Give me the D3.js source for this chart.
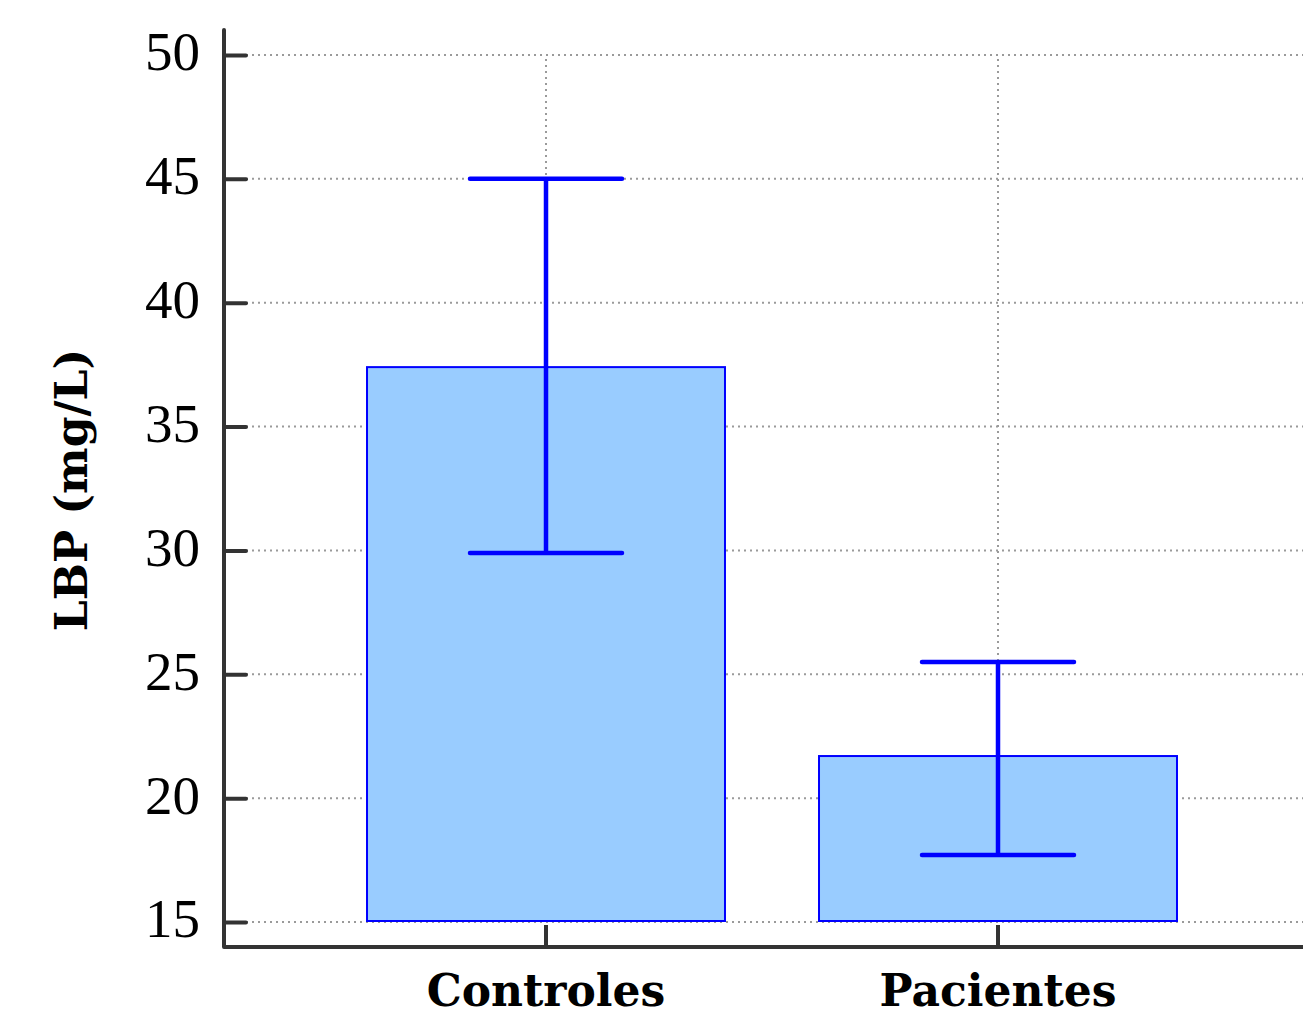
<!DOCTYPE html>
<html>
<head>
<meta charset="utf-8">
<script src="https://cdn.jsdelivr.net/npm/d3@7"></script>
<style>
  html, body { margin: 0; padding: 0; background: #fff; }
  svg { display: block; }
</style>
</head>
<body>
<svg id="chart" width="1303" height="1016"></svg>
<script>
// Mean LBP concentration per group with error-bar limits
const categories = ["Controles", "Pacientes"];
const means = [37.4, 21.7];
const errLow = [29.9, 17.7];
const errHigh = [45.0, 25.5];
const yTicks = [15, 20, 25, 30, 35, 40, 45, 50];
const yLabel = "LBP (mg/L)";

const svg = d3.select("#chart");
const W = 1303, H = 1016;

const left = 224, bottom = 947;
const y = d3.scaleLinear().domain([15, 50]).range([922, 55]);
const x = d3.scaleBand().domain(categories)
  .range([320, 1224]).paddingInner(0.208).paddingOuter(0.104);

const axisColor = "#333333";
const gridColor = "#9a9a9a";

// Horizontal dotted grid lines
svg.append("g").selectAll("line").data(yTicks).join("line")
  .attr("x1", left + 22).attr("x2", W)
  .attr("y1", d => y(d)).attr("y2", d => y(d))
  .attr("stroke", gridColor).attr("stroke-width", 2)
  .attr("stroke-dasharray", "2,4");

// Vertical dotted grid lines at category centres
svg.append("g").selectAll("line").data(categories).join("line")
  .attr("x1", d => x(d) + x.bandwidth() / 2).attr("x2", d => x(d) + x.bandwidth() / 2)
  .attr("y1", y(50) + 4).attr("y2", y(15) - 2)
  .attr("stroke", gridColor).attr("stroke-width", 2)
  .attr("stroke-dasharray", "2,4");

// Bars
svg.append("g").selectAll("rect").data(categories).join("rect")
  .attr("x", d => x(d))
  .attr("width", x.bandwidth())
  .attr("y", (d, i) => y(means[i]))
  .attr("height", (d, i) => y(15) - 1 - y(means[i]))
  .attr("fill", "#99ccff")
  .attr("stroke", "#0000ff").attr("stroke-width", 2);

// Error bars
const capHalf = 76;
const eb = svg.append("g").attr("stroke", "#0000ff").attr("stroke-width", 4.5)
  .attr("stroke-linecap", "round");
categories.forEach((c, i) => {
  const cx = x(c) + x.bandwidth() / 2;
  eb.append("line").attr("x1", cx).attr("x2", cx)
    .attr("y1", y(errHigh[i])).attr("y2", y(errLow[i])).attr("stroke-linecap", "butt");
  eb.append("line").attr("x1", cx - capHalf).attr("x2", cx + capHalf)
    .attr("y1", y(errHigh[i])).attr("y2", y(errHigh[i]));
  eb.append("line").attr("x1", cx - capHalf).attr("x2", cx + capHalf)
    .attr("y1", y(errLow[i])).attr("y2", y(errLow[i]));
});

// Y axis with inward ticks
const yAxis = d3.axisRight(y).tickValues(yTicks).tickSize(22).tickFormat("");
const gy = svg.append("g").attr("transform", `translate(${left},0)`).call(yAxis);
gy.select(".domain").remove();
gy.selectAll(".tick line").attr("stroke", axisColor).attr("stroke-width", 4)
  .attr("stroke-linecap", "round");

// Y tick labels
svg.append("g").selectAll("text").data(yTicks).join("text")
  .attr("x", 200).attr("y", d => y(d))
  .attr("dy", "0.28em")
  .attr("text-anchor", "end")
  .attr("font-family", "'Liberation Serif', serif")
  .attr("font-size", 55)
  .attr("fill", "#000")
  .text(d => d);

// X axis with inward ticks
const xAxis = d3.axisTop(x).tickSize(22).tickFormat("");
const gx = svg.append("g").attr("transform", `translate(0,${bottom})`).call(xAxis);
gx.select(".domain").remove();
gx.selectAll(".tick line").attr("stroke", axisColor).attr("stroke-width", 4);

// Axis lines
svg.append("path")
  .attr("d", `M${left},30 L${left},${bottom} L${W},${bottom}`)
  .attr("fill", "none").attr("stroke", axisColor).attr("stroke-width", 4)
  .attr("stroke-linejoin", "round").attr("stroke-linecap", "round");

// Category labels
svg.append("g").selectAll("text").data(categories).join("text")
  .attr("x", d => x(d) + x.bandwidth() / 2).attr("y", 1006)
  .attr("text-anchor", "middle")
  .attr("font-family", "'DejaVu Serif', serif")
  .attr("font-weight", "bold")
  .attr("font-size", 44)
  .attr("fill", "#000")
  .text(d => d);

// Y axis title
svg.append("text")
  .attr("transform", "translate(87,490) rotate(-90)")
  .attr("text-anchor", "middle")
  .attr("font-family", "'DejaVu Serif', serif")
  .attr("font-weight", "bold")
  .attr("font-size", 44)
  .attr("fill", "#000")
  .text(yLabel);
</script>
</body>
</html>
